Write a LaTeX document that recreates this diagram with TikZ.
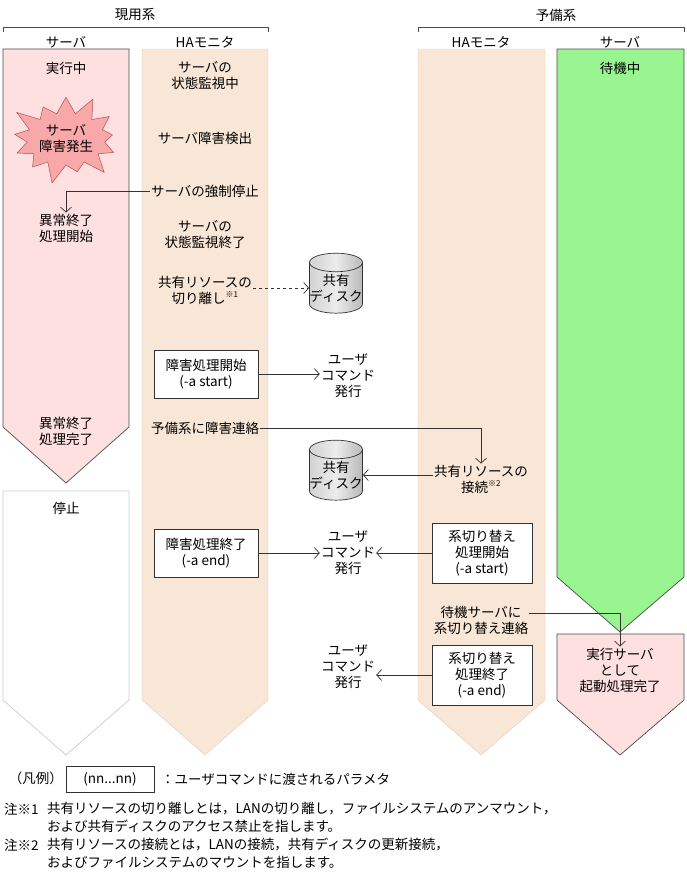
\documentclass[tikz,border=0pt]{standalone}
\usepackage{fontspec}
\setmainfont{Noto Sans CJK JP}
\usetikzlibrary{shapes.geometric,shapes.symbols,arrows.meta}
\definecolor{pinkf}{HTML}{FFE0E0}
\definecolor{monf}{HTML}{F8E6D6}
\definecolor{greenf}{HTML}{98F590}
\definecolor{burst}{HTML}{F8A8A8}
\newcommand{\note}[1]{\textsuperscript{\fontsize{8}{8}\selectfont #1}}
\begin{document}
\begin{tikzpicture}[x=1pt,y=-1pt,
  every node/.style={font=\fontsize{13.5}{16}\selectfont, align=center, inner sep=1pt},
  arr/.style={-{Straight Barb[length=5pt,width=11pt]}, draw=black!80, line width=0.7pt},
  cmdbox/.style={draw=black!80, fill=white, minimum width=104pt, minimum height=48pt, line width=0.7pt},
  disk/.style={cylinder, shape border rotate=90, aspect=0.35, draw=black!80, left color=gray!35, right color=gray!55, middle color=gray!15, minimum width=43pt, minimum height=60pt, inner sep=0pt, line width=0.7pt}]
\useasboundingbox (0,0) rectangle (687,873);
\fill[white] (0,0) rectangle (687,873);
% lanes
\filldraw[fill=pinkf, draw=black!70, line width=0.7pt] (3,49)--(129,49)--(129,427)--(66,483)--(3,427)--cycle;
\draw[draw=black!20, line width=0.7pt] (3,491)--(129,491)--(129,700)--(66,755)--(3,700)--cycle;
\filldraw[fill=monf, draw=monf!90!black] (142,49)--(268,49)--(268,700)--(205,755)--(142,700)--cycle;
\filldraw[fill=monf, draw=monf!90!black] (418,49)--(545,49)--(545,700)--(481,755)--(418,700)--cycle;
\filldraw[fill=greenf, draw=black!70, line width=0.7pt] (557,49)--(684,49)--(684,577)--(620,632)--(557,577)--cycle;
\filldraw[fill=pinkf, draw=black!70, line width=0.7pt] (557,634)--(684,634)--(684,700)--(620,755)--(557,700)--cycle;
% headers
\node (h1) at (135,15) {現用系};
\draw[black!70, line width=0.7pt] (3,32)--(3,27)--(268,27)--(268,32);
\node (h2) at (556,15) {予備系};
\draw[black!70, line width=0.7pt] (418,32)--(418,27)--(684,27)--(684,32);
\node (c1) at (66,42) {サーバ};
\node (c2) at (205,42) {HAモニタ};
\node (c3) at (481,42) {HAモニタ};
\node (c4) at (620,42) {サーバ};
% left server
\node (run) at (66,68) {実行中};
\node[starburst, starburst points=13, starburst point height=22pt, fill=burst, draw=red!60!black!70, line width=0.5pt, minimum width=122pt, minimum height=96pt, inner sep=0pt] (sb) at (66,139) {};
\node (sbt) at (66,139) {サーバ\\障害発生};
\node (abs) at (66,228) {異常終了\\処理開始};
\node (abe) at (66,431) {異常終了\\処理完了};
\node (stop) at (66,508) {停止};
% left monitor
\node (m1) at (205,76) {サーバの\\状態監視中};
\node (m2) at (205,138) {サーバ障害検出};
\node (m3) at (205,191) {サーバの強制停止};
\node (m4) at (205,235) {サーバの\\状態監視終了};
\node (m5) at (205,290) {共有リソースの\\切り離し\note{※1}};
\node[cmdbox] (b1) at (206,374) {障害処理開始\\(-a start)};
\node (m6) at (205,428) {予備系に障害連絡};
\node[cmdbox] (b2) at (206,553) {障害処理終了\\(-a end)};
% middle
\node[disk] (d1) at (336,288) {共有\\ディスク};
\node[disk] (d2) at (336,475) {共有\\ディスク};
\node (u1) at (348,376) {ユーザ\\コマンド\\発行};
\node (u2) at (348,553) {ユーザ\\コマンド\\発行};
\node (u3) at (348,667) {ユーザ\\コマンド\\発行};
% right monitor
\node (r1) at (481,479) {共有リソースの\\接続\note{※2}};
\node[cmdbox, minimum width=100pt, minimum height=60pt] (b3) at (482,553) {系切り替え\\処理開始\\(-a start)};
\node (r2) at (481,620) {待機サーバに\\系切り替え連絡};
\node[cmdbox, minimum width=100pt, minimum height=60pt] (b4) at (482,675) {系切り替え\\処理終了\\(-a end)};
% right server
\node (wait) at (620,68) {待機中};
\node (done) at (620,670) {実行サーバ\\として\\起動処理完了};
% connectors
\draw[arr] (m3.west) -| (abs.north);
\draw[arr, dashed] (m5.east |- d1.west) -- (d1.west);
\draw[arr] (b1.east) -- (u1.west |- b1.east);
\draw[arr] (m6.east) -| (r1.north);
\draw[arr] (r1.west |- d2.east) -- (d2.east);
\draw[arr] (b2.east) -- (u2.west);
\draw[arr] (b3.west) -- (u2.east);
\draw[arr] (r2.east |- 0,613) -| (done.north);
\draw[arr] (b4.west) -- (u3.east |- b4.west);
% legend
\node (lg) at (36,778) {（凡例）};
\node[draw=black!80, minimum width=88pt, minimum height=26pt, line width=0.7pt] (lb) at (110,779) {(nn...nn)};
\node[anchor=west] (lt) at (160,779) {：ユーザコマンドに渡されるパラメタ};
\node[anchor=west] (n1) at (3,809) {注※1};
\node[anchor=west, align=left, font=\fontsize{13.5}{18}\selectfont] (n1t) at (46,817) {共有リソースの切り離しとは，LANの切り離し，ファイルシステムのアンマウント，\\および共有ディスクのアクセス禁止を指します。};
\node[anchor=west] (n2) at (3,845) {注※2};
\node[anchor=west, align=left, font=\fontsize{13.5}{18}\selectfont] (n2t) at (46,853) {共有リソースの接続とは，LANの接続，共有ディスクの更新接続，\\およびファイルシステムのマウントを指します。};
\end{tikzpicture}
\end{document}
